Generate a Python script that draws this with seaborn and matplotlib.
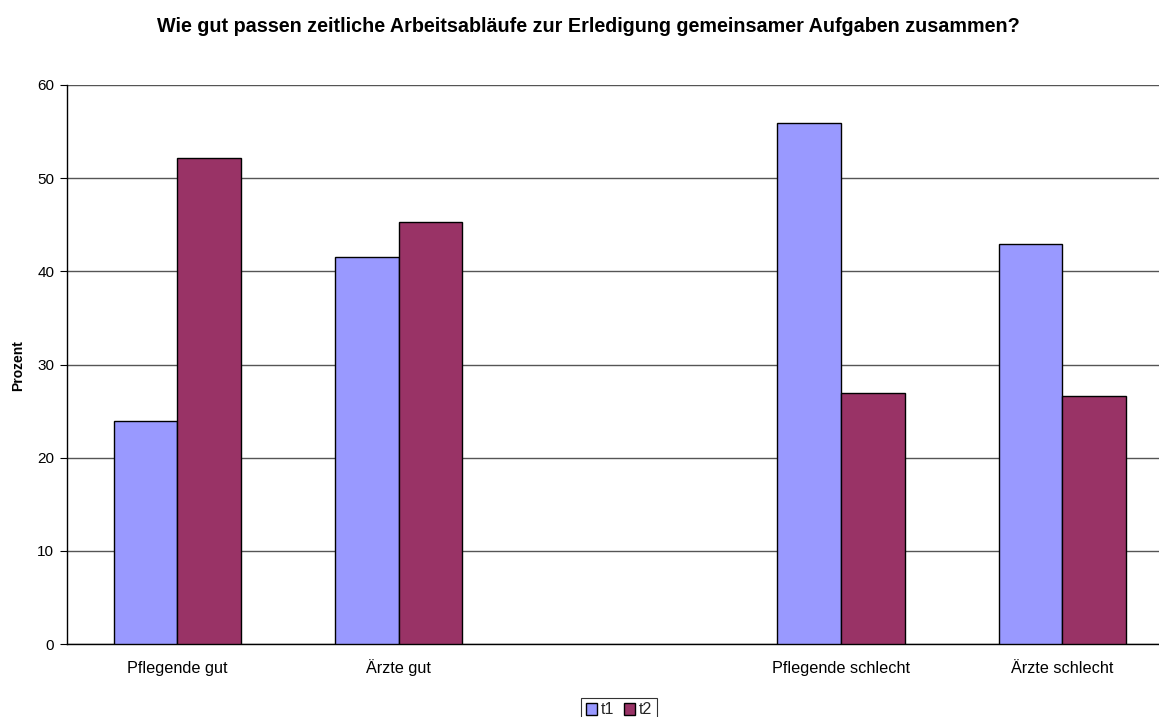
import matplotlib
matplotlib.use("Agg")
import matplotlib.pyplot as plt
import seaborn as sns
import pandas as pd
from matplotlib.patches import Patch

categories = ["Pflegende gut", "Ärzte gut", "Pflegende schlecht", "Ärzte schlecht"]
order = ["Pflegende gut", "Ärzte gut", " ", "Pflegende schlecht", "Ärzte schlecht"]
t1_values = [23.9, 41.5, 55.9, 42.9]
t2_values = [52.2, 45.3, 26.9, 26.6]
series = ["t1", "t2"]
colors = {"t1": "#9999FF", "t2": "#993366"}
title = "Wie gut passen zeitliche Arbeitsabläufe zur Erledigung gemeinsamer Aufgaben zusammen?"

df = pd.DataFrame({
    "Kategorie": categories * 2,
    "Zeit": ["t1"] * len(categories) + ["t2"] * len(categories),
    "Prozent": t1_values + t2_values,
})

sns.set_theme(style="white")
plt.rcParams["font.family"] = ["Liberation Sans", "DejaVu Sans"]

W, H = 1159, 717
fig = plt.figure(figsize=(W / 100, H / 100), dpi=100)
left, right, top, bottom = 66.7, 1173.0, 85.0, 644.0
ax = fig.add_axes([left / W, 1 - bottom / H, (right - left) / W, (bottom - top) / H])

sns.barplot(data=df, x="Kategorie", y="Prozent", hue="Zeit", order=order,
            hue_order=series, palette=colors, width=0.576, edgecolor="black",
            linewidth=1.0, saturation=1, ax=ax, legend=False, zorder=3)

ax.set_xlim(-0.5, 4.5)
ax.set_ylim(0, 60)
ax.set_yticks(range(0, 61, 10))
ax.yaxis.grid(True, color="#555555", linewidth=1.0, zorder=0)
ax.set_axisbelow(True)
for s in ["top", "right"]:
    ax.spines[s].set_visible(False)
for s in ["left", "bottom"]:
    ax.spines[s].set_color("black")
    ax.spines[s].set_linewidth(1.0)

ax.set_xticks([i - 0.5 for i in range(6)])
ax.set_xticklabels([])
ax.set_xticks(list(range(5)), minor=True)
ax.set_xticklabels(order, minor=True, va="baseline")
ax.tick_params(axis="x", which="major", direction="out", length=5, color="black", width=0.8)
ax.tick_params(axis="x", which="minor", length=0, pad=21, labelsize=11.7, labelcolor="black")
ax.tick_params(axis="y", direction="out", length=5, color="black", width=0.8,
               labelsize=11, labelcolor="black", left=True, pad=4)
ax.set_xlabel("")
ax.set_ylabel("")
fig.text(18 / W, 1 - 366 / H, "Prozent", rotation=90, ha="center", va="center",
         fontsize=10, fontweight="bold", color="black")

fig.text(588 / W, 1 - 32 / H, title, ha="center", va="baseline",
         fontsize=14.2, fontweight="bold", color="black")

handles = [Patch(facecolor=colors[s], edgecolor="black", linewidth=1.0, label=s) for s in series]
leg = fig.legend(handles=handles, loc="center", bbox_to_anchor=(619 / W, 1 - 710 / H),
                 ncol=2, frameon=True, fontsize=11.5, handlelength=0.7, handleheight=0.7,
                 handletextpad=0.25, columnspacing=0.6, borderpad=0.3, fancybox=False,
                 borderaxespad=0)
leg.get_frame().set_edgecolor("black")
leg.get_frame().set_linewidth(0.8)

fig.savefig("out.png", dpi=100)
